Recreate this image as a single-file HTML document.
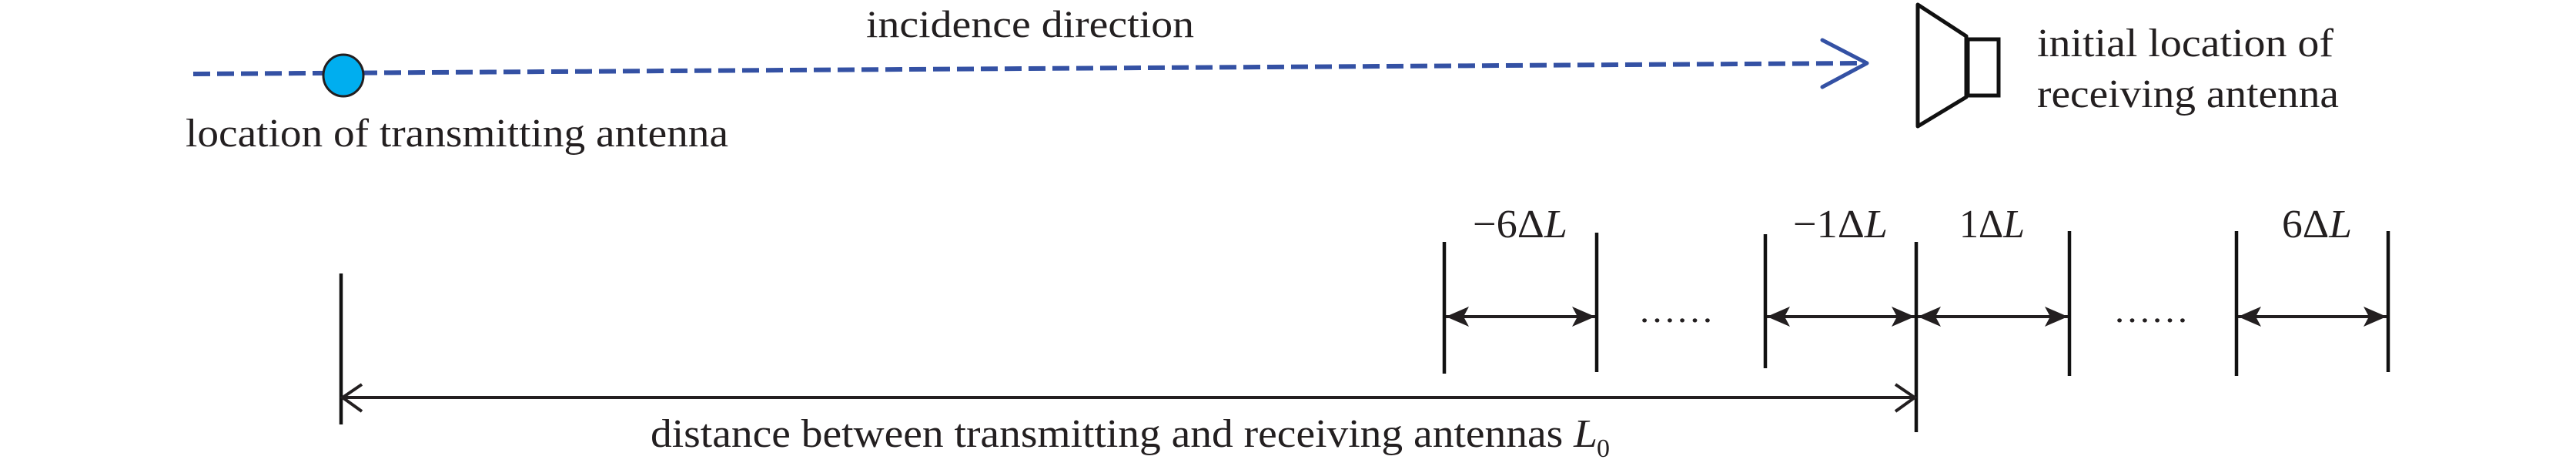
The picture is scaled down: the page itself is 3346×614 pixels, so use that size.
<!DOCTYPE html>
<html><head><meta charset="utf-8"><style>
html,body{margin:0;padding:0;background:#fff;}
svg{display:block;}
text{font-family:"Liberation Serif",serif;fill:#231f20;}
</style></head><body>
<svg width="3346" height="614" viewBox="0 0 3346 614" xmlns="http://www.w3.org/2000/svg">
<defs>
<marker id="fh" viewBox="0 0 30 26" refX="30" refY="13" markerWidth="30" markerHeight="26" markerUnits="userSpaceOnUse" orient="auto-start-reverse">
<path d="M0,0 L30,13 L0,26 L7,13 Z" fill="#231f20"/>
</marker>
</defs>
<line x1="251" y1="96" x2="2420" y2="82" stroke="#3451a4" stroke-width="6" stroke-dasharray="22,9"/>
<polyline points="2367,52 2425,82 2367,113" fill="none" stroke="#3451a4" stroke-width="5" stroke-linecap="round" stroke-linejoin="round"/>
<ellipse cx="446" cy="98" rx="26" ry="27" fill="#00aeef" stroke="#231f20" stroke-width="3"/>
<text x="1125" y="48" font-size="50" textLength="426" lengthAdjust="spacingAndGlyphs">incidence direction</text>
<text x="241" y="190" font-size="52" textLength="705" lengthAdjust="spacingAndGlyphs">location of transmitting antenna</text>
<path d="M2491,6 L2554,47 L2554,126 L2491,164 Z" fill="none" stroke="#111" stroke-width="5" stroke-linejoin="round"/>
<rect x="2556" y="51" width="40" height="73" fill="none" stroke="#111" stroke-width="5"/>
<text x="2646" y="73" font-size="52" textLength="385" lengthAdjust="spacingAndGlyphs">initial location of</text>
<text x="2646" y="139" font-size="52" textLength="392" lengthAdjust="spacingAndGlyphs">receiving antenna</text>
<g stroke="#111" stroke-width="4.5">
<line x1="443" y1="355" x2="443" y2="551"/>
<line x1="2489" y1="314" x2="2489" y2="561"/>
<line x1="1876" y1="314" x2="1876" y2="485"/>
<line x1="2074" y1="302" x2="2074" y2="483"/>
<line x1="2293" y1="304" x2="2293" y2="478"/>
<line x1="2688" y1="300" x2="2688" y2="488"/>
<line x1="2905" y1="300" x2="2905" y2="488"/>
<line x1="3102" y1="300" x2="3102" y2="483"/>
</g>
<g stroke="#231f20" stroke-width="4">
<line x1="1878" y1="411" x2="2072" y2="411" marker-start="url(#fh)" marker-end="url(#fh)"/>
<line x1="2295" y1="411" x2="2487" y2="411" marker-start="url(#fh)" marker-end="url(#fh)"/>
<line x1="2491" y1="411" x2="2686" y2="411" marker-start="url(#fh)" marker-end="url(#fh)"/>
<line x1="2907" y1="411" x2="3100" y2="411" marker-start="url(#fh)" marker-end="url(#fh)"/>
</g>
<line x1="445" y1="516" x2="2487" y2="516" stroke="#231f20" stroke-width="4"/>
<polyline points="470,499 445,516 470,534" fill="none" stroke="#231f20" stroke-width="4"/>
<polyline points="2462,499 2487,516 2462,534" fill="none" stroke="#231f20" stroke-width="4"/>
<text x="2128" y="418" font-size="44" textLength="98" lengthAdjust="spacingAndGlyphs">……</text>
<text x="2745" y="418" font-size="44" textLength="98" lengthAdjust="spacingAndGlyphs">……</text>
<text x="1913" y="308" font-size="52" textLength="123" lengthAdjust="spacingAndGlyphs">−6Δ<tspan font-style="italic">L</tspan></text>
<text x="2329" y="308" font-size="52" textLength="123" lengthAdjust="spacingAndGlyphs">−1Δ<tspan font-style="italic">L</tspan></text>
<text x="2545" y="308" font-size="52" textLength="85" lengthAdjust="spacingAndGlyphs">1Δ<tspan font-style="italic">L</tspan></text>
<text x="2964" y="308" font-size="52" textLength="91" lengthAdjust="spacingAndGlyphs">6Δ<tspan font-style="italic">L</tspan></text>
<text x="845" y="580" font-size="52" textLength="1230" lengthAdjust="spacingAndGlyphs">distance between transmitting and receiving antennas <tspan font-style="italic">L</tspan></text>
<text x="2074" y="593" font-size="34">0</text>
</svg>
</body></html>
